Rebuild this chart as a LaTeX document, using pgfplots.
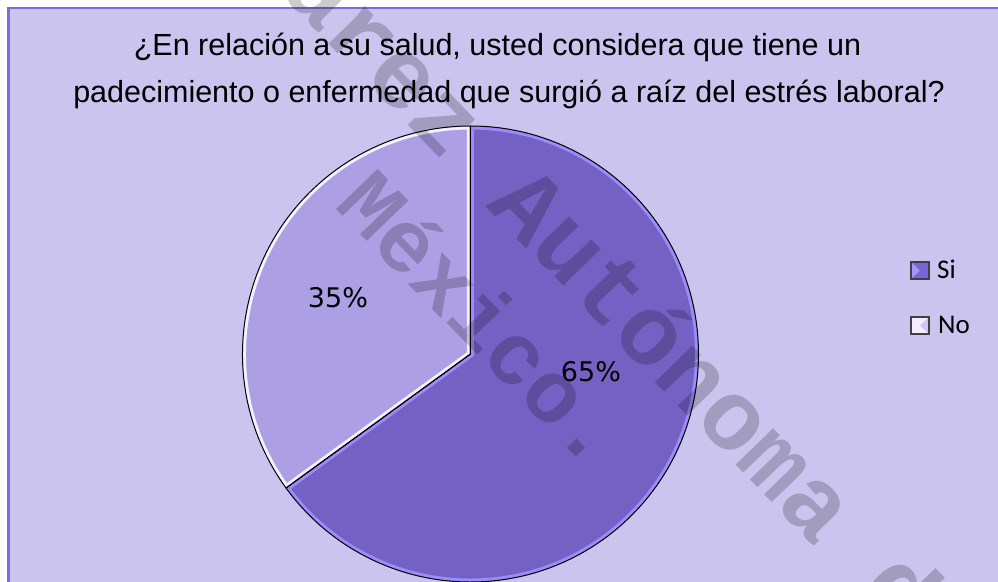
\documentclass[border=0pt]{standalone}
\usepackage{pgfplots}
\pgfplotsset{compat=1.18}
\usepackage{pgfplotstable}
\usepackage{fontspec}
\setmainfont{Liberation Sans}
\newfontfamily\dejavu{DejaVu Sans}
\newfontfamily\carlito{Carlito}
\newfontfamily\wmfont{Liberation Mono}
\definecolor{bg}{HTML}{CBC4EF}
\definecolor{frame}{HTML}{7E6BDE}
\definecolor{siFill}{HTML}{7561C3}
\definecolor{siEdge}{HTML}{9C8CFA}
\definecolor{noFill}{HTML}{AC9FE4}
\definecolor{noEdge}{HTML}{F5F0FF}
\definecolor{legSi}{HTML}{7565D6}
\definecolor{legSiL}{HTML}{A597F2}
\definecolor{legNo}{HTML}{F2EEFF}
\definecolor{legNoD}{HTML}{CFC6F5}
\pgfplotstableread{
label value
Si 65
No 35
}\piedata
\begin{document}
\begin{tikzpicture}
\pgfplotstablegetelem{0}{value}\of\piedata \pgfmathsetmacro\vSi{\pgfplotsretval}
\pgfplotstablegetelem{1}{value}\of\piedata \pgfmathsetmacro\vNo{\pgfplotsretval}
\pgfmathsetmacro\fSi{\vSi/(\vSi+\vNo)}
\pgfmathsetmacro\aSi{360*\fSi}
\pgfmathsetmacro\aEnd{90-\aSi}
\pgfmathtruncatemacro\iSi{round(\vSi)}
\pgfmathtruncatemacro\iNo{round(\vNo)}
\def\cx{470.5}\def\cy{228}\def\r{228}
\begin{axis}[at={(0,0)}, anchor=south west, x=1bp, y=1bp,
  xmin=0, xmax=998, ymin=0, ymax=582, hide axis, scale only axis, clip=false]
\fill[white] (axis cs:0,0) rectangle (axis cs:998,582);
\fill[bg] (axis cs:8.5,0) rectangle (axis cs:998,574);
\draw[frame, line width=3bp] (axis cs:8.5,0) -- (axis cs:8.5,574.75);
\draw[frame, line width=1.5bp] (axis cs:7,574) -- (axis cs:998,574);
% title
\node[font=\fontsize{30.5bp}{36bp}\selectfont, anchor=base, inner sep=0] at (axis cs:497.5,527) {¿En relación a su salud, usted considera que tiene un};
\node[font=\fontsize{30.5bp}{36bp}\selectfont, anchor=base, inner sep=0] at (axis cs:509,480) {padecimiento o enfermedad que surgió a raíz del estrés laboral?};
% Si slice
\begin{scope}
\clip (axis cs:\cx,\cy) -- ++(90:\r bp) arc[start angle=90, end angle=\aEnd, radius=\r bp] -- cycle;
\fill[siFill] (axis cs:\cx,\cy) -- ++(90:\r bp) arc[start angle=90, end angle=\aEnd, radius=\r bp] -- cycle;
\draw[siEdge, line width=7bp] (axis cs:\cx,\cy) -- ++(90:\r bp) arc[start angle=90, end angle=\aEnd, radius=\r bp] -- cycle;
\end{scope}
% No slice
\begin{scope}
\clip (axis cs:\cx,\cy) -- ++(\aEnd:\r bp) arc[start angle=\aEnd, end angle=-270, radius=\r bp] -- cycle;
\fill[noFill] (axis cs:\cx,\cy) -- ++(\aEnd:\r bp) arc[start angle=\aEnd, end angle=-270, radius=\r bp] -- cycle;
\draw[noEdge, line width=7bp] (axis cs:\cx,\cy) -- ++(\aEnd:\r bp) arc[start angle=\aEnd, end angle=-270, radius=\r bp] -- cycle;
\end{scope}
\draw[black, line width=1bp, line join=round] (axis cs:\cx,\cy) -- ++(90:\r bp) arc[start angle=90, end angle=\aEnd, radius=\r bp] -- cycle;
\draw[black, line width=1bp, line join=round] (axis cs:\cx,\cy) -- ++(\aEnd:\r bp) arc[start angle=\aEnd, end angle=-270, radius=\r bp] -- cycle;
% data labels
\node[font=\dejavu\fontsize{27bp}{30bp}\selectfont, inner sep=0] at (axis cs:338,284) {\iNo\%};
\node[font=\dejavu\fontsize{27bp}{30bp}\selectfont, inner sep=0] at (axis cs:591,210) {\iSi\%};
% legend
\fill[legSi] (axis cs:911,303) rectangle (axis cs:929,320);
\fill[legSiL] (axis cs:911,303) -- (axis cs:920,311.5) -- (axis cs:911,320) -- cycle;
\draw[black!75, line width=1.2bp] (axis cs:911,303) rectangle (axis cs:929,320);
\fill[legNo] (axis cs:911,248) rectangle (axis cs:929,265);
\fill[legNoD] (axis cs:929,248) -- (axis cs:920,256.5) -- (axis cs:929,265) -- cycle;
\draw[black!75, line width=1.2bp] (axis cs:911,248) rectangle (axis cs:929,265);
\node[font=\carlito\fontsize{27bp}{30bp}\selectfont, anchor=base west, inner sep=0] at (axis cs:937,304) {Si};
\node[font=\carlito\fontsize{27bp}{30bp}\selectfont, anchor=base west, inner sep=0] at (axis cs:938,249) {No};
% watermark
\node[rotate=-46, anchor=base, inner sep=0, text=black, text opacity=0.2, font=\wmfont\bfseries\fontsize{99bp}{119bp}\selectfont] at (axis cs:506.7,354.4) {Universidad Juárez Autónoma de Tabasco.};
\node[rotate=-46, anchor=base, inner sep=0, text=black, text opacity=0.2, font=\wmfont\bfseries\fontsize{88bp}{106bp}\selectfont] at (axis cs:461.4,243) {México.};
\end{axis}
\pgfresetboundingbox
\path (0,0) rectangle (998bp,582bp);
\end{tikzpicture}
\end{document}
